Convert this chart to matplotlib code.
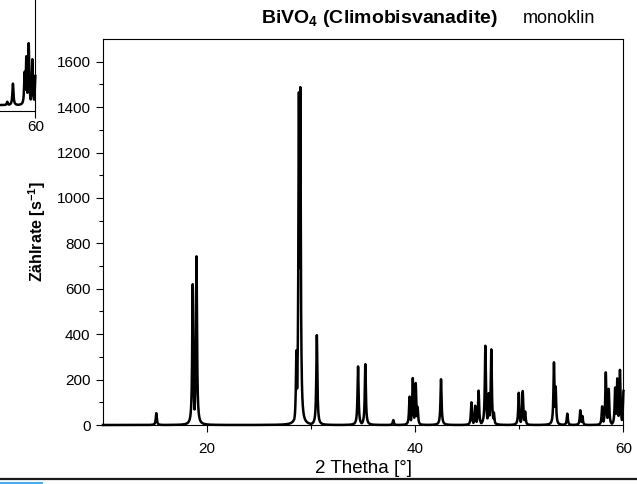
import matplotlib
matplotlib.use("Agg")
import matplotlib.pyplot as plt
from matplotlib.lines import Line2D
import numpy as np

plt.rcParams['font.family'] = ['Liberation Sans', 'DejaVu Sans']
plt.rcParams['mathtext.fontset'] = 'custom'
plt.rcParams['mathtext.rm'] = 'Liberation Sans'
plt.rcParams['mathtext.bf'] = 'Liberation Sans:bold'

# BiVO4 reflections: 2theta position [deg] and peak count rate [1/s]
peak_pos = [15.12, 18.62, 18.98, 28.58, 28.82, 28.95, 30.54, 34.50, 35.20,
            37.88, 39.45, 39.76, 40.04, 40.22, 42.47, 45.39, 45.75, 46.08,
            46.73, 47.05, 47.30, 47.55, 49.94, 50.32, 50.55, 53.32, 53.48,
            54.60, 55.85, 56.05, 57.95, 58.30, 58.58, 59.20, 59.40, 59.66, 60.00]
peak_int = [52, 622, 745, 330, 1470, 1488, 396, 258, 268,
            22, 125, 207, 185, 80, 202, 100, 85, 152,
            350, 140, 333, 55, 142, 150, 60, 277, 170,
            50, 65, 40, 82, 232, 160, 165, 205, 243, 150]

# previous pattern (only its right end is visible)
prev_pos = [57.30, 57.84, 58.97, 59.13, 59.36, 59.71, 60.00]
prev_int = [15, 96, 150, 219, 277, 205, 130]

HWHM = 0.06


def profile(tt, pos, inten):
    y = np.zeros_like(tt)
    for p, h in zip(pos, inten):
        y = np.maximum(y, h / (1 + ((tt - p) / HWHM) ** 2))
    return y


tt = np.linspace(10, 60, 6001)

fig = plt.figure(figsize=(6.37, 4.84), dpi=100)

# old plot peeking in at the top left
ax0 = fig.add_axes([-0.760, 0.7713, 0.8155, 0.7975])
ax0.plot(tt, profile(tt, prev_pos, prev_int), color='black', lw=1.8, clip_on=False)
ax0.set_xlim(10, 60)
ax0.set_ylim(-25, 1700)
ax0.set_xticks([60])
ax0.set_yticks([])
ax0.tick_params(axis='x', direction='out', length=5, width=0.8, labelsize=11, pad=2)
for s in ax0.spines.values():
    s.set_linewidth(0.8)

ax = fig.add_axes([0.1617, 0.1219, 0.8171, 0.7975])
ax.plot(tt, profile(tt, peak_pos, peak_int), color='black', lw=1.8, clip_on=False)
ax.set_xlim(10, 60)
ax.set_ylim(0, 1700)
ax.set_xticks([20, 40, 60])
ax.set_xticks([30, 50], minor=True)
ax.set_yticks(np.arange(0, 1601, 200))
ax.set_yticks(np.arange(100, 1700, 200), minor=True)
ax.tick_params(which='major', direction='out', length=5, width=0.8, labelsize=11, pad=4)
ax.tick_params(which='minor', direction='out', length=3, width=0.8)
ax.tick_params(axis='x', which='major', pad=7)
for s in ax.spines.values():
    s.set_linewidth(0.8)

ax.set_ylabel(r'Zählrate [s$^{\mathbf{-1}}$]', fontsize=11.5, fontweight='bold', labelpad=6)
fig.text(0.571, 0.033, '2 Thetha [°]', fontsize=13.5, ha='center', va='center')

fig.text(0.782, 0.962, r'BiVO$_\mathbf{4}$ (Climobisvanadite)', fontsize=14,
         fontweight='bold', ha='right', va='center')
fig.text(0.820, 0.962, 'monoklin', fontsize=13, ha='left', va='center')

# page rule along the bottom
fig.add_artist(Line2D([0, 1], [0.0093, 0.0093], transform=fig.transFigure,
                      color='#1a1a1a', lw=1.6))
fig.add_artist(Line2D([0, 0.066], [0.0025, 0.0025], transform=fig.transFigure,
                      color='#3fa9f5', lw=1.4))

fig.savefig('out.png', dpi=100)
